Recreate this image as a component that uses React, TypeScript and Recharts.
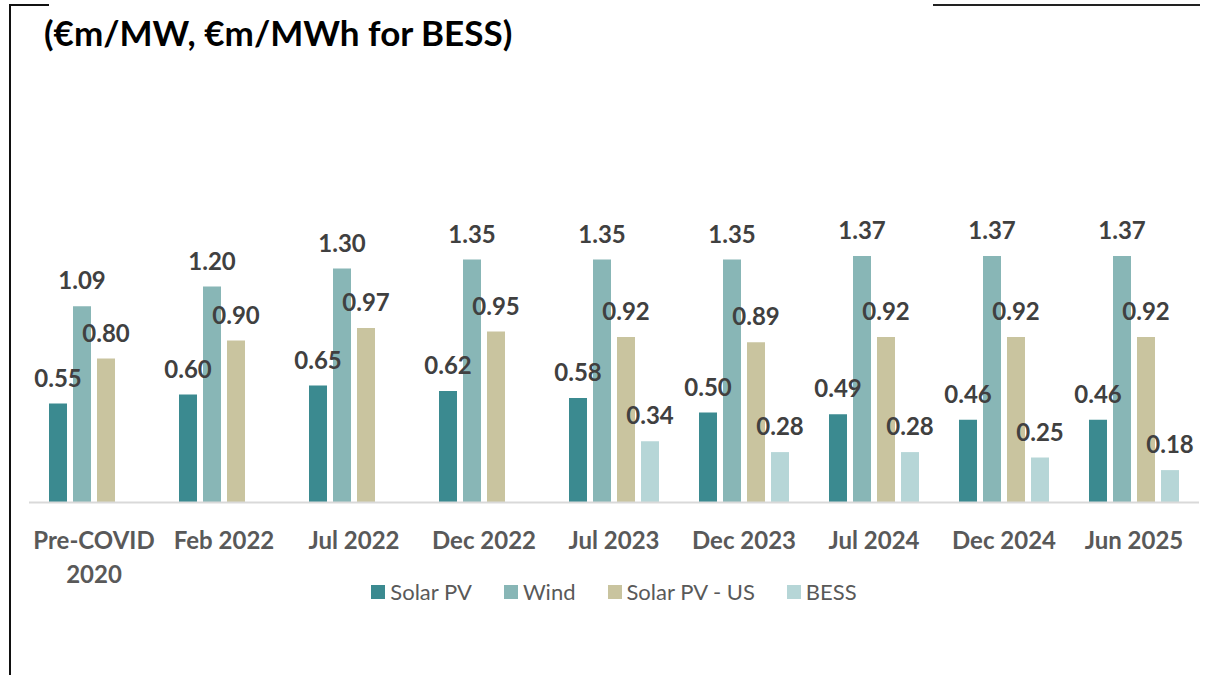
import { BarChart, Bar, XAxis, YAxis, LabelList, Legend } from "recharts";

const categories = [
  "Pre-COVID\n2020", "Feb 2022", "Jul 2022", "Dec 2022", "Jul 2023",
  "Dec 2023", "Jul 2024", "Dec 2024", "Jun 2025",
];
const solarPv = [0.55, 0.6, 0.65, 0.62, 0.58, 0.5, 0.49, 0.46, 0.46];
const wind = [1.09, 1.2, 1.3, 1.35, 1.35, 1.35, 1.37, 1.37, 1.37];
const solarPvUs = [0.8, 0.9, 0.97, 0.95, 0.92, 0.89, 0.92, 0.92, 0.92];
const bess = [null, null, null, null, 0.34, 0.28, 0.28, 0.25, 0.18];

const series = [
  { key: "solarPv", name: "Solar PV", color: "#3b8a90" },
  { key: "wind", name: "Wind", color: "#88b6b6" },
  { key: "solarPvUs", name: "Solar PV - US", color: "#c9c49f" },
  { key: "bess", name: "BESS", color: "#b6d6d7" },
];

const data = categories.map((name, i) => ({
  name,
  solarPv: solarPv[i],
  wind: wind[i],
  solarPvUs: solarPvUs[i],
  bess: bess[i],
}));

const FONT = "Lato, 'Open Sans', sans-serif";

const fmt = (v: any) => (v == null ? "" : Number(v).toFixed(2));

// x axis label, can be two lines
const CategoryTick = ({ x, y, payload }: any) => {
  const lines = String(payload.value).split("\n");
  return (
    <text x={x} y={y} textAnchor="middle" fill="#595959" fontSize={24} fontWeight="bold" fontFamily={FONT}>
      {lines.map((l, i) => (
        <tspan key={i} x={x} dy={i === 0 ? 46 : 34}>{l}</tspan>
      ))}
    </text>
  );
};

const LegendBox = () => (
  <div style={{ display: "flex", justifyContent: "center", alignItems: "center", fontFamily: FONT, fontSize: 22, color: "#595959" }}>
    {series.map((s, i) => (
      <div key={s.key} style={{ display: "flex", alignItems: "center", marginLeft: i === 0 ? 0 : 32 }}>
        <span style={{ width: 14, height: 14, background: s.color, marginRight: 5, display: "inline-block" }} />
        <span>{s.name}</span>
      </div>
    ))}
  </div>
);

export default function App() {
  return (
    <div style={{ position: "absolute", left: 0, top: 0, width: 1213, height: 675, background: "#fff", overflow: "hidden" }}>
      <div style={{ position: "absolute", left: 9, top: 4, width: 40, height: 2, background: "#111" }} />
      <div style={{ position: "absolute", left: 9, top: 4, width: 2, height: 671, background: "#111" }} />
      <div style={{ position: "absolute", left: 933, top: 4, width: 267, height: 2, background: "#222" }} />
      <div style={{ position: "absolute", left: 44, top: 12, fontFamily: FONT, fontWeight: "bold", fontSize: 35, lineHeight: "40px", color: "#000" }}>
        (€m/MW, €m/MWh for BESS)
      </div>
      <BarChart
        width={1213}
        height={675}
        data={data}
        margin={{ top: 214.5, right: 14, bottom: 92.5, left: 29 }}
        barSize={18}
        barGap={6}
      >
        <XAxis
          dataKey="name"
          height={80}
          interval={0}
          tickLine={false}
          tickSize={0}
          tickMargin={0}
          axisLine={{ stroke: "#d9d9d9", strokeWidth: 2 }}
          tick={<CategoryTick />}
        />
        <YAxis hide domain={[0, 1.6]} />
        <Legend
          verticalAlign="middle"
          layout="horizontal"
          content={<LegendBox />}
          wrapperStyle={{ top: 578, left: 29, width: 1170 }}
        />
        {series.map((s) => (
          <Bar key={s.key} dataKey={s.key} name={s.name} fill={s.color} isAnimationActive={false}>
            <LabelList
              dataKey={s.key}
              position="top"
              offset={17}
              formatter={fmt}
              fill="#404040"
              fontSize={24}
              fontWeight="bold"
              fontFamily={FONT}
            />
          </Bar>
        ))}
      </BarChart>
    </div>
  );
}
